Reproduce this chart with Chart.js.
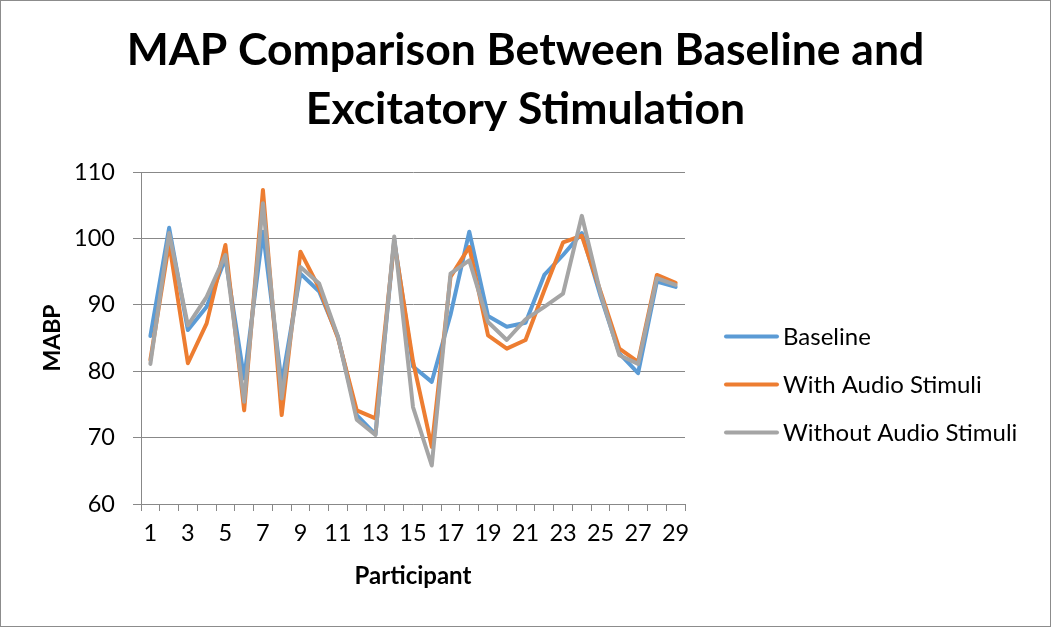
<!DOCTYPE html>
<html>
<head>
<meta charset="utf-8">
<script src="https://cdn.jsdelivr.net/npm/chart.js@4"></script>
<style>
  body { margin: 0; background: #fff; }
  #wrap { width: 1051px; height: 627px; }
</style>
</head>
<body>
<div id="wrap"><canvas id="chart" width="1051" height="627"></canvas></div>
<script>
const participants = ['1','2','3','4','5','6','7','8','9','10','11','12','13','14','15',
  '16','17','18','19','20','21','22','23','24','25','26','27','28','29'];
const baseline = [85.3, 101.6, 86.2, 89.7, 97.0, 78.9, 101.0, 78.2, 94.7, 92.0, 85.2, 73.4, 70.5, 99.8, 80.7,
  78.4, 88.5, 101.0, 88.3, 86.7, 87.3, 94.5, 97.5, 100.8, 91.3, 82.7, 79.7, 93.5, 92.7];
const withAudio = [81.7, 99.3, 81.2, 87.2, 99.0, 74.1, 107.3, 73.4, 98.0, 92.5, 85.0, 74.1, 72.9, 99.5, 81.5,
  68.6, 94.2, 98.7, 85.4, 83.4, 84.7, 92.2, 99.4, 100.4, 92.0, 83.4, 81.4, 94.5, 93.3];
const withoutAudio = [81.1, 100.8, 86.9, 91.2, 97.5, 75.4, 105.3, 75.9, 95.7, 93.2, 85.2, 72.7, 70.4, 100.3, 74.6,
  65.8, 94.7, 96.7, 87.4, 84.7, 87.8, 89.7, 91.7, 103.4, 91.7, 82.4, 81.1, 94.0, 93.0];

const font = 'Lato';
const gridGray = '#888888';

// legend drawn at the right like the Excel one
const sideLegend = {
  id: 'sideLegend',
  afterDraw(chart) {
    const ctx = chart.ctx;
    ctx.save();
    chart.data.datasets.forEach((ds, i) => {
      const y = 336.5 + i * 48;
      ctx.strokeStyle = ds.borderColor;
      ctx.lineWidth = 4;
      ctx.lineCap = 'round';
      ctx.beginPath();
      ctx.moveTo(726, y);
      ctx.lineTo(777, y);
      ctx.stroke();
      ctx.fillStyle = '#000';
      ctx.font = '24px ' + font;
      ctx.textBaseline = 'middle';
      ctx.fillText(ds.label, 783, y + 1);
    });
    // outer frame
    ctx.strokeStyle = '#8c8c8c';
    ctx.lineWidth = 1;
    ctx.strokeRect(0.5, 0.5, 1050, 626);
    ctx.restore();
  }
};

new Chart(document.getElementById('chart'), {
  type: 'line',
  data: {
    labels: participants,
    datasets: [
      { label: 'Baseline', data: baseline, borderColor: '#5B9BD5', backgroundColor: '#5B9BD5', order: 2 },
      { label: 'With Audio Stimuli', data: withAudio, borderColor: '#ED7D31', backgroundColor: '#ED7D31', order: 1 },
      { label: 'Without Audio Stimuli', data: withoutAudio, borderColor: '#A5A5A5', backgroundColor: '#A5A5A5', order: 0 }
    ]
  },
  options: {
    responsive: false,
    animation: false,
    layout: { padding: 0 },
    elements: {
      line: { borderWidth: 4, tension: 0, borderJoinStyle: 'round', borderCapStyle: 'round' },
      point: { radius: 0 }
    },
    plugins: {
      legend: { display: false },
      tooltip: { enabled: false },
      title: {
        display: true,
        text: ['MAP Comparison Between Baseline and', 'Excitatory Stimulation'],
        color: '#000',
        font: { family: font, size: 44.5, weight: 'bold', lineHeight: '59px' },
        padding: { top: 21, bottom: 33 }
      }
    },
    scales: {
      x: {
        offset: true,
        grid: { offset: true, drawOnChartArea: false, drawTicks: true, tickLength: 7, color: gridGray },
        border: { display: true, color: gridGray },
        ticks: {
          autoSkip: false,
          maxRotation: 0,
          padding: 8,
          color: '#000',
          font: { family: font, size: 23.5 },
          callback: (v, i) => (i % 2 === 0 ? participants[i] : '')
        },
        title: {
          display: true,
          text: 'Participant',
          color: '#000',
          font: { family: font, size: 24, weight: 'bold' },
          padding: { top: 0, bottom: 36 }
        },
        afterFit: s => { s.height = 123; }
      },
      y: {
        min: 60,
        max: 110,
        grid: { color: gridGray, tickLength: 8 },
        border: { display: true, color: gridGray },
        ticks: {
          stepSize: 10,
          padding: 18,
          color: '#000',
          font: { family: font, size: 23.5 }
        },
        title: {
          display: true,
          text: 'MABP',
          color: '#000',
          font: { family: font, size: 23, weight: 'bold' },
          padding: { top: 39, bottom: 0 }
        },
        afterFit: s => { s.width = 141; }
      },
      // empty right-hand box that keeps room for the legend
      side: {
        type: 'linear',
        position: 'right',
        grid: { display: false },
        border: { display: false },
        ticks: { display: false },
        afterFit: s => { s.width = 366; }
      }
    }
  },
  plugins: [sideLegend]
});
</script>
</body>
</html>
